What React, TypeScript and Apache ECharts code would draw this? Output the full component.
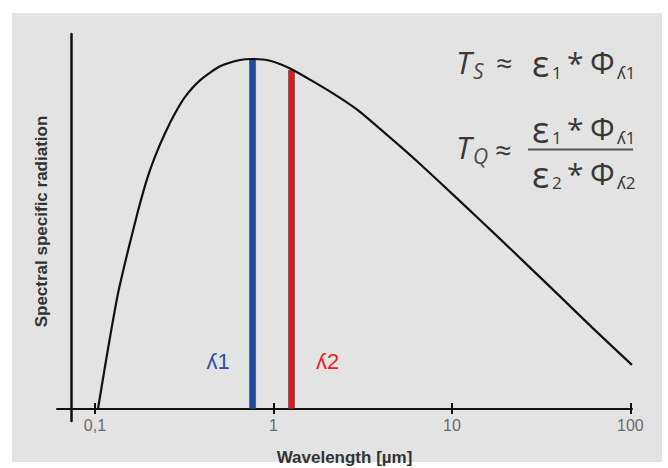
import React, { useEffect, useRef } from "react";
import * as echarts from "echarts";

// ---- data ----
// schematic spectral radiation curve: wavelength [µm] vs relative radiation
const CURVE_LAMBDA = [
  0.104, 0.114, 0.124, 0.135, 0.154, 0.175, 0.195, 0.217, 0.247, 0.281, 0.32,
  0.388, 0.502, 0.65, 0.759, 0.957, 1.239, 1.667, 2.361, 3.056, 5.12, 6.63,
  11.25, 18.6, 35.5, 62.2, 102,
];
const CURVE_VALUE = [
  0, 12.3, 23.1, 33.3, 45.7, 56.9, 65.4, 72.1, 78.8, 84.5, 89.2, 93.9, 97.9,
  99.7, 100, 99.5, 97.3, 93.6, 88.9, 84.9, 75.1, 70.0, 59.1, 48.6, 34.9, 22.9,
  12.6,
];
// the two measuring wavelengths
const BAND_NAMES = ["ʎ1", "ʎ2"];
const BAND_LAMBDA = [0.764, 1.263];
const BAND_VALUE = [100, 96.9];
const BAND_COLORS = ["#1e4b9b", "#e3171b"];
const BAND_LABEL_COLORS = ["#2b4fa2", "#e8231f"];
// axis ticks
const X_TICKS = [0.1, 1, 10, 100];
const X_TICK_LABELS = ["0,1", "1", "10", "100"];
const X_MIN = 0.0613;
const X_MAX = 102.1;
const Y_MIN = -3.43;
const Y_MAX = 107.14;

const X_NAME = "Wavelength [µm]";
const Y_NAME = "Spectral specific radiation";

const FORMULA_COLOR = "#383838";
const SUB_COLOR = "#4a4a4a";
const FORMULA_FONT = "'Open Sans', 'Noto Sans', 'DejaVu Sans', sans-serif";

function ftext(
  text: string,
  x: number,
  y: number,
  size: number,
  extra: Record<string, any> = {}
) {
  return {
    type: "text",
    x,
    y,
    silent: true,
    style: {
      text,
      fill: extra.fill || FORMULA_COLOR,
      fontSize: size,
      fontFamily: FORMULA_FONT,
      fontStyle: extra.italic ? "italic" : "normal",
      fontWeight: extra.weight || "normal",
      align: "left",
      verticalAlign: "middle",
    },
  };
}

export default function App() {
  const ref = useRef<HTMLDivElement>(null);

  useEffect(() => {
    if (!ref.current) return;
    const chart = echarts.init(ref.current, null, { renderer: "svg" });

    const curve = CURVE_LAMBDA.map((l, i) => [l, CURVE_VALUE[i]]);
    const bars = BAND_LAMBDA.map((l, i) => ({
      value: [l, BAND_VALUE[i]],
      itemStyle: {
        color: BAND_COLORS[i],
        borderColor: "rgba(60,60,60,0.55)",
        borderWidth: 1,
      },
      label: {
        show: true,
        formatter: BAND_NAMES[i],
        position: "insideBottom",
        distance: 0,
        offset: [i === 0 ? -34.5 : 36, -36],
        color: BAND_LABEL_COLORS[i],
        fontSize: 22,
        lineHeight: 22,
        fontFamily: "'Liberation Sans', 'DejaVu Sans', sans-serif",
      },
    }));

    const tickLabel = (v: number) => {
      let best = 0;
      let bd = Infinity;
      X_TICKS.forEach((t, i) => {
        const d = Math.abs(Math.log10(v) - Math.log10(t));
        if (d < bd) {
          bd = d;
          best = i;
        }
      });
      return X_TICK_LABELS[best];
    };

    const formula: any[] = [
      // line 1: T_S ≈ ε1 * Φλ1
      ftext("T", 456, 62, 31, { italic: true }),
      ftext("S", 473, 71, 21, { italic: true, fill: SUB_COLOR }),
      ftext("≈", 496, 62, 29),
      ftext("ε", 532, 63, 36),
      ftext("1", 552, 72, 17),
      ftext("*", 567, 62, 30),
      ftext("Φ", 590, 62, 31),
      ftext("ʎ1", 617, 72, 17),
      // line 2: T_Q ≈ (ε1 * Φλ1) / (ε2 * Φλ2)
      ftext("T", 456, 147, 31, { italic: true }),
      ftext("Q", 473, 156, 21, { italic: true, fill: SUB_COLOR }),
      ftext("≈", 495, 149, 29),
      ftext("ε", 532, 129, 36),
      ftext("1", 552, 137, 17),
      ftext("*", 567, 128, 30),
      ftext("Φ", 590, 128, 31),
      ftext("ʎ1", 617, 137, 17),
      {
        type: "line",
        silent: true,
        shape: { x1: 528, y1: 149.5, x2: 633, y2: 149.5 },
        style: { stroke: "#555", lineWidth: 2 },
      },
      ftext("ε", 532, 174, 36),
      ftext("2", 552, 182, 17),
      ftext("*", 567, 173, 30),
      ftext("Φ", 590, 173, 31),
      ftext("ʎ2", 617, 182, 17),
    ];

    chart.setOption({
      animation: false,
      backgroundColor: "#ffffff",
      graphic: [
        {
          type: "rect",
          z: -100,
          silent: true,
          shape: { x: 12, y: 13, width: 650, height: 449 },
          style: { fill: "#e3e3e3" },
        },
        ...formula,
      ],
      grid: {
        left: 57,
        right: 36,
        top: 34,
        bottom: 47,
        containLabel: false,
        outerBoundsMode: "none",
      },
      xAxis: [
        {
          type: "log",
          logBase: 10,
          min: X_MIN,
          max: X_MAX,
          name: X_NAME,
          nameLocation: "middle",
          nameGap: 28,
          nameTextStyle: {
            fontSize: 17,
            fontWeight: "bold",
            color: "#333",
            fontFamily: "'Liberation Sans', Arial, sans-serif",
          },
          axisLine: {
            onZero: true,
            onZeroAxisIndex: 0,
            lineStyle: { color: "#111", width: 2 },
          },
          axisTick: {
            show: true,
            inside: false,
            length: 5,
            customValues: X_TICKS,
            lineStyle: { color: "#111", width: 2 },
          },
          axisLabel: {
            customValues: X_TICKS,
            formatter: tickLabel,
            margin: -4,
            fontSize: 16,
            color: "#6a6a6a",
            fontFamily: "'Liberation Sans', Arial, sans-serif",
          },
          splitLine: { show: false },
          minorTick: { show: false },
        },
        {
          type: "log",
          logBase: 10,
          min: X_MIN,
          max: X_MAX,
          position: "bottom",
          axisLine: { show: false, onZero: true, onZeroAxisIndex: 1 },
          axisTick: {
            show: true,
            inside: true,
            length: 6,
            customValues: X_TICKS,
            lineStyle: { color: "#111", width: 2 },
          },
          axisLabel: { show: false },
          splitLine: { show: false },
        },
      ],
      yAxis: [
        {
          type: "value",
          min: Y_MIN,
          max: Y_MAX,
          offset: -14,
          name: Y_NAME,
          nameLocation: "middle",
          nameGap: 21,
          nameTextStyle: {
            fontSize: 17,
            fontWeight: "bold",
            color: "#333",
            fontFamily: "'Liberation Sans', Arial, sans-serif",
            padding: [0, 0, 0, 12],
          },
          axisLine: { show: true, lineStyle: { color: "#111", width: 2.5 } },
          axisTick: { show: false },
          axisLabel: { show: false },
          splitLine: { show: false },
        },
        {
          type: "value",
          min: Y_MIN,
          max: Y_MAX,
          position: "left",
          axisLine: { show: false },
          axisTick: { show: false },
          axisLabel: { show: false },
          splitLine: { show: false },
        },
      ],
      series: [
        {
          type: "bar",
          xAxisIndex: 0,
          yAxisIndex: 0,
          data: bars,
          barWidth: 7,
          z: 2,
        },
        {
          type: "line",
          xAxisIndex: 0,
          yAxisIndex: 0,
          data: curve,
          showSymbol: false,
          smooth: 0.2,
          lineStyle: { color: "#111", width: 2.2 },
          z: 3,
        },
      ],
    });

    return () => chart.dispose();
  }, []);

  return (
    <div
      ref={ref}
      style={{ position: "fixed", left: 0, top: 0, width: 668, height: 468 }}
    />
  );
}
